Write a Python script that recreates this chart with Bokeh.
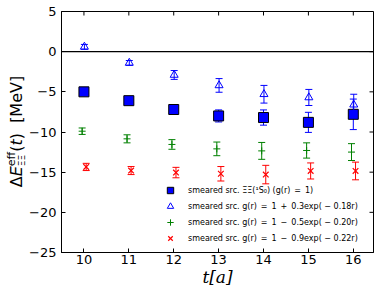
import math
from bokeh.plotting import figure
from bokeh.models import (ColumnDataSource, Span, Legend, LegendItem,
                          FixedTicker, Range1d, Div)
from bokeh.layouts import row
from bokeh.transform import dodge
from bokeh.embed import file_html
from bokeh.resources import INLINE

# ---------------- data ----------------
t = [10, 11, 12, 13, 14, 15, 16]

sq_val = [-5.0, -6.1, -7.2, -8.0, -8.2, -8.8, -7.8]
sq_err = [0.3, 0.3, 0.4, 0.75, 0.95, 1.25, 1.9]

tri_val = [0.6, -1.4, -2.9, -4.2, -5.3, -5.7, -6.6]
tri_err = [0.3, 0.3, 0.55, 0.85, 1.1, 1.0, 1.3]

grn_val = [-9.9, -10.85, -11.55, -12.1, -12.35, -12.3, -12.5]
grn_err = [0.4, 0.5, 0.6, 0.85, 1.05, 0.95, 1.05]

red_val = [-14.35, -14.8, -15.05, -15.2, -15.3, -14.85, -14.85]
red_err = [0.45, 0.5, 0.65, 0.9, 1.15, 1.0, 1.1]

SP = "\u2002"
labels = [
    "smeared src. ΞΞ(¹S₀) (g(r)" + SP + "=" + SP + "1)",
    "smeared src. g(r)" + SP + "=" + SP + "1" + SP + "+" + SP + "0.3exp( − 0.18r)",
    "smeared src. g(r)" + SP + "=" + SP + "1" + SP + "−" + SP + "0.5exp( − 0.20r)",
    "smeared src. g(r)" + SP + "=" + SP + "1" + SP + "−" + SP + "0.9exp( − 0.22r)",
]

x_ticks = [10, 11, 12, 13, 14, 15, 16]
y_ticks = [-25, -20, -15, -10, -5, 0, 5]
X_LO, X_HI = 9.5, 16.45
Y_LO, Y_HI = -25, 5

W_LABEL = 26
W_TOTAL, H_TOTAL = 374, 289


def src(vals, errs):
    return ColumnDataSource(dict(
        t=t, v=vals,
        lo=[a - e for a, e in zip(vals, errs)],
        hi=[a + e for a, e in zip(vals, errs)],
    ))


p = figure(width=W_TOTAL - W_LABEL, height=H_TOTAL,
           x_range=Range1d(X_LO, X_HI), y_range=Range1d(Y_LO, Y_HI),
           output_backend="svg", toolbar_location=None,
           min_border_left=34, min_border_right=1,
           min_border_top=11, min_border_bottom=30, margin=0)
p.grid.visible = False
p.outline_line_color = "black"
p.outline_line_width = 1
p.background_fill_color = "white"
p.border_fill_color = "white"

TICK_FONT = "DejaVu Sans"
for ax in p.xaxis + p.yaxis:
    ax.major_tick_in = 4
    ax.major_tick_out = 0
    ax.minor_tick_line_color = None
    ax.axis_line_color = "black"
    ax.major_tick_line_color = "black"
    ax.major_label_text_font = TICK_FONT
    ax.major_label_text_font_size = "13px"
    ax.major_label_text_color = "black"

p.xaxis.ticker = FixedTicker(ticks=x_ticks)
p.yaxis.ticker = FixedTicker(ticks=y_ticks)
p.yaxis.major_label_overrides = {v: (str(v).replace("-", "−")) for v in y_ticks}
p.xaxis.major_label_standoff = 2
p.yaxis.major_label_standoff = 5
p.xaxis.axis_label = "t[a]"
p.xaxis.axis_label_text_font = "DejaVu Serif"
p.xaxis.axis_label_text_font_style = "italic"
p.xaxis.axis_label_text_font_size = "17px"
p.xaxis.axis_label_standoff = 0
p.xaxis.axis_label_text_color = "black"

# mirrored inward ticks on top and right edges (clipped half-dashes)
tsrc = ColumnDataSource(dict(x=x_ticks, y=[Y_HI] * len(x_ticks)))
rsrc = ColumnDataSource(dict(x=[X_HI] * len(y_ticks), y=y_ticks))
p.scatter(x="x", y="y", source=tsrc, marker="dash", angle=math.pi / 2,
          size=8, line_color="black", line_width=1)
p.scatter(x="x", y="y", source=rsrc, marker="dash", size=8,
          line_color="black", line_width=1)

p.add_layout(Span(location=0, dimension="width", line_color="black",
                  line_width=1.2))

CAP = 7


def series(vals, errs, off, color, marker, size, fill, line_color, lw=1):
    s = src(vals, errs)
    x = dodge("t", off)
    p.segment(x0=x, x1=x, y0="lo", y1="hi", source=s, line_color=color,
              line_width=1)
    p.scatter(x=x, y="lo", source=s, marker="dash", size=CAP,
              line_color=color, line_width=1)
    p.scatter(x=x, y="hi", source=s, marker="dash", size=CAP,
              line_color=color, line_width=1)
    r = p.scatter(x=x, y="v", source=s, marker=marker, size=size,
                  fill_color=fill, line_color=line_color, line_width=lw)
    return r


r_grn = series(grn_val, grn_err, -0.04, "green", "cross", 7, None, "green")
r_red = series(red_val, red_err, 0.05, "red", "x", 8, None, "red", 1.2)
r_sq = series(sq_val, sq_err, 0.0, "blue", "square", 10, "blue", "black")
r_tri = series(tri_val, tri_err, 0.01, "blue", "triangle", 8, None, "blue")

legend = Legend(items=[
    LegendItem(label=labels[0], renderers=[r_sq]),
    LegendItem(label=labels[1], renderers=[r_tri]),
    LegendItem(label=labels[2], renderers=[r_grn]),
    LegendItem(label=labels[3], renderers=[r_red]),
], location=(99, 6), padding=0, spacing=0, margin=0, glyph_height=16,
    glyph_width=20, label_height=16, label_standoff=8,
    label_text_font="DejaVu Sans", label_text_font_size="8px",
    label_text_color="black",
    border_line_color=None, background_fill_alpha=0)
p.add_layout(legend)

# y-axis label as rotated HTML text (with stacked super/subscript)
frame_mid = (11 + 252) / 2.0
shift = (H_TOTAL - frame_mid) - H_TOTAL / 2.0
ylabel_html = (
    f'<div style="position:relative;width:{W_LABEL}px;height:{H_TOTAL}px;">'
    f'<div style="position:absolute;left:0;top:0;width:{H_TOTAL}px;'
    f'height:{W_LABEL}px;transform-origin:0 0;'
    f'transform:translate(0px,{H_TOTAL}px) rotate(-90deg);'
    f'box-sizing:border-box;padding-left:{2 * shift:.1f}px;padding-top:4px;'
    'text-align:center;white-space:nowrap;font-family:\'DejaVu Sans\';'
    'font-size:16px;line-height:26px;color:black;">'
    'Δ<i>E</i>'
    '<span style="display:inline-block;line-height:11px;font-size:11px;'
    'vertical-align:-3px;text-align:left;">'
    '<span style="display:block;">eff</span>'
    '<span style="display:block;font-size:9px;">ΞΞ</span></span>'
    '(<i>t</i>)&nbsp;&nbsp;[MeV]'
    '</div></div>'
)
ylab = Div(text=ylabel_html, width=W_LABEL, height=H_TOTAL, margin=0)

layout = row(ylab, p, spacing=0)
open("out.html", "w").write(file_html(layout, INLINE))
